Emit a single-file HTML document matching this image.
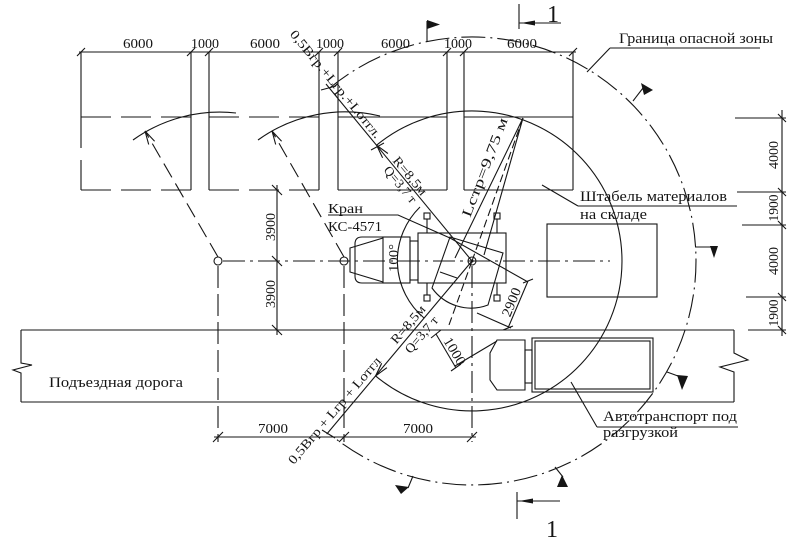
<!DOCTYPE html>
<html><head><meta charset="utf-8">
<style>
html,body{margin:0;padding:0;background:#fff;width:792px;height:545px;overflow:hidden}
svg{display:block}
text{font-family:"Liberation Serif","DejaVu Serif",serif;fill:#151515;stroke:none}
</style></head><body>
<svg width="792" height="545" viewBox="0 0 792 545" xmlns="http://www.w3.org/2000/svg">
<rect width="792" height="545" fill="#fff"/>
<g fill="none" stroke="#151515" stroke-width="1.1">
<!-- top dimension line -->
<line x1="79" y1="52" x2="576" y2="52"/>
<path d="M77,56 L85,48 M187,56 L195,48 M205,56 L213,48 M315,56 L323,48 M334,56 L342,48 M443,56 L451,48 M460,56 L468,48 M569,56 L577,48"/>
<!-- box verticals -->
<path d="M81,52 V148 M81,160 V190 M191,52 V190 M209,52 V190 M319,52 V190 M338,52 V190 M447,52 V190 M464,52 V190 M573,52 V190"/>
<path d="M81,117 H191 M209,117 H319 M81,190 H191 M209,190 H319" stroke-dasharray="30 10"/>
<path d="M338,117 H447 M464,117 H573 M338,190 H447 M464,190 H573"/>

<!-- previous crane position arcs -->
<path d="M133,140 A149,149 0 0 1 236,113"/>
<path d="M258,140 A149,149 0 0 1 380,116"/>
<path d="M218,257 L145,131 M344,257 L272,131" stroke-dasharray="16 7"/>
<path d="M148.7,144.5 L145,131 L154.6,141.2 M275.7,144.5 L272,131 L281.6,141.2"/>
<circle cx="218" cy="261" r="4"/>
<circle cx="344" cy="261" r="4"/>

<!-- axis lines -->
<path d="M223,261 H610" stroke-dasharray="22 5 3 5"/>
<path d="M218,266 V442 M344,266 V442" stroke-dasharray="22 6"/>
<path d="M472,266 V442" stroke-dasharray="22 5 3 5"/>

<!-- 3900 dims -->
<path d="M277,185 V335 M272,185 L282,195 M272,256 L282,266 M272,325 L282,335"/>

<!-- road -->
<path d="M21,330 H734 M21,402 H734"/>
<path d="M21,330 L21,363 L32,365 L13,370 L21,373 L21,402"/>
<path d="M734,330 L734,353 L748,360 L720,367 L734,372 L734,402"/>

<!-- bottom dimension -->
<path d="M214,437 H476 M213,442 L223,432 M339,442 L349,432 M467,442 L477,432"/>

<!-- right dimensions -->
<path d="M782,110 V336 M735,118 H786 M737,192 H786 M742,225 H786 M746,297 H786 M748,330 H786"/>
<path d="M778,114 L786,122 M778,188 L786,196 M778,221 L786,229 M778,293 L786,301 M778,326 L786,334"/>

<!-- crane working radius circle R=8.5 -->
<path d="M376.6,145.2 A150,150 0 1 1 375.6,375.9"/>
<!-- danger zone circle -->
<path d="M329.3,88.3 A224,224 0 1 1 334.1,437.5" stroke-dasharray="24 5 2 5"/>

<!-- radial dimension lines -->
<path d="M472,261 L326,84"/>
<path d="M382.6,157.8 L376.6,145.2 L387.9,153.5"/>
<path d="M321,90 L336,86 M371,150 L384,143"/>
<path d="M472,261 L326.7,434.1"/>
<path d="M386.9,367.7 L375.6,375.9 L381.7,363.3"/>
<path d="M322,430 L335,438"/>

<!-- boom -->
<path d="M523,118 L455,258 M523,118 L484,255"/>
<path d="M523,118 L472,261" stroke-dasharray="8 4"/>
<path d="M472,261 L449,325" stroke-dasharray="8 4"/>

<!-- crane body -->
<path d="M383,237 H362 Q355,237 355,244 V276 Q355,283 362,283 H383"/>
<path d="M383,238 L350,248 V272 L383,282"/>
<rect x="383" y="237" width="27" height="46"/>
<rect x="410" y="241" width="8" height="39"/>
<rect x="418" y="233" width="88" height="50"/>
<path d="M427,219 V233 M497,219 V233 M427,283 V295 M497,283 V295"/>
<rect x="424" y="213" width="6" height="6"/>
<rect x="494" y="213" width="6" height="6"/>
<rect x="424" y="295" width="6" height="6"/>
<rect x="494" y="295" width="6" height="6"/>
<path d="M450,237 L503,253 L488,305 A48,48 0 0 1 432,288 Z"/>
<path d="M440,272 L457,278"/>
<path d="M420,207 A75,75 0 0 0 424,318"/>
<circle cx="472" cy="261" r="4"/>
<circle cx="472" cy="261" r="1" fill="#151515"/>

<!-- Кран leader -->
<path d="M328,215 H398 L450,238"/>
<!-- 2900 dim -->
<path d="M450,238 L528,282 M528,281 L508,328 M477,313 L511,328"/>
<path d="M523,283 L533,279 M503,330 L513,326"/>
<!-- 1000 dim -->
<path d="M436,334 L456,368 M455,366 L497,341 M431,338 L441,330 M451,371 L461,364"/>

<!-- truck -->
<path d="M497,340 H525 V390 H497 L490,380 V353 Z"/>
<rect x="525" y="350" width="7" height="33"/>
<rect x="532" y="338" width="121" height="54"/>
<rect x="535" y="341" width="115" height="48"/>

<!-- storage stack -->
<rect x="547" y="224" width="110" height="73"/>

<!-- leaders -->
<path d="M610,48 H760 M610,48 L587,72"/>
<path d="M578,206 H737 M578,206 L542,185"/>
<path d="M597,427 H738 M597,427 L571,382"/>

<!-- section marks -->
<path d="M519,4 V29 M519,23 H561"/>
<path d="M517,492 V519 M517,501 H560"/>

<!-- flags poles -->
<path d="M427,42 V21 M633,101 L643,88 M695,247 H713 M667,372 L678,376 M555,467 L563,477 M413,476 L408,488"/>
</g>

<g fill="#151515" stroke="none">
<polygon points="521,23 535,20.5 535,25.5"/>
<polygon points="519,501 533,498.5 533,503.5"/>
<polygon points="427,20 440,24.5 427,29"/>
<polygon points="641,83 653,90 644,95"/>
<polygon points="710,246 718,246 714,258"/>
<polygon points="677,375 688,376 682,390"/>
<polygon points="562,475 568,487 557,487"/>
<polygon points="395,485 409,487 401,494"/>
</g>

<!-- top dimension labels -->
<g font-size="14">
<text x="123" y="48" textLength="30" lengthAdjust="spacingAndGlyphs">6000</text>
<text x="191" y="48" textLength="28" lengthAdjust="spacingAndGlyphs">1000</text>
<text x="250" y="48" textLength="30" lengthAdjust="spacingAndGlyphs">6000</text>
<text x="316" y="48" textLength="28" lengthAdjust="spacingAndGlyphs">1000</text>
<text x="381" y="48" textLength="29" lengthAdjust="spacingAndGlyphs">6000</text>
<text x="444" y="48" textLength="28" lengthAdjust="spacingAndGlyphs">1000</text>
<text x="507" y="48" textLength="30" lengthAdjust="spacingAndGlyphs">6000</text>
<text x="258" y="433" textLength="30" lengthAdjust="spacingAndGlyphs">7000</text>
<text x="403" y="433" textLength="30" lengthAdjust="spacingAndGlyphs">7000</text>
</g>

<!-- rotated dimension labels -->
<g font-size="14" text-anchor="middle">
<text transform="translate(270,227) rotate(-90)" y="5" textLength="28" lengthAdjust="spacingAndGlyphs">3900</text>
<text transform="translate(270,294) rotate(-90)" y="5" textLength="28" lengthAdjust="spacingAndGlyphs">3900</text>
<text transform="translate(773,155) rotate(-90)" y="5" textLength="28" lengthAdjust="spacingAndGlyphs">4000</text>
<text transform="translate(773,208) rotate(-90)" y="5" textLength="27" lengthAdjust="spacingAndGlyphs">1900</text>
<text transform="translate(773,261) rotate(-90)" y="5" textLength="28" lengthAdjust="spacingAndGlyphs">4000</text>
<text transform="translate(773,313) rotate(-90)" y="5" textLength="27" lengthAdjust="spacingAndGlyphs">1900</text>
<text transform="translate(393,258) rotate(-90)" y="5" textLength="28" lengthAdjust="spacingAndGlyphs">100°</text>
<text transform="translate(511,302) rotate(-68)" y="5" textLength="30" lengthAdjust="spacingAndGlyphs">2900</text>
<text transform="translate(455,351) rotate(59)" y="5" textLength="30" lengthAdjust="spacingAndGlyphs">1000</text>
</g>

<!-- radial texts -->
<g font-size="13" text-anchor="middle">
<text transform="translate(330.2,88.8) rotate(50.5)" y="-3" textLength="136" lengthAdjust="spacingAndGlyphs">0,5Bгр.+Lгр.+Lотгл.</text>
<text transform="translate(405.2,179.9) rotate(50.5)" y="-2" textLength="46" lengthAdjust="spacingAndGlyphs">R=8,5м</text>
<text transform="translate(405.5,180.3) rotate(50.5)" y="11" textLength="44" lengthAdjust="spacingAndGlyphs">Q=3,7 т</text>
<text transform="translate(341.5,416.5) rotate(-49.7)" y="-5" textLength="136" lengthAdjust="spacingAndGlyphs">0,5Bгр + Lгр + Lотгл</text>
<text transform="translate(414.3,329.8) rotate(-49.7)" y="-4" textLength="46" lengthAdjust="spacingAndGlyphs">R=8,5м</text>
<text transform="translate(414.8,329.1) rotate(-49.7)" y="13" textLength="44" lengthAdjust="spacingAndGlyphs">Q=3,7 т</text>
<text transform="translate(489,169) rotate(-69)" y="0" font-size="14" textLength="105" lengthAdjust="spacingAndGlyphs">Lстр=9,75 м</text>
</g>

<!-- labels -->
<g font-size="15">
<text x="619" y="43" textLength="154" lengthAdjust="spacingAndGlyphs">Граница опасной зоны</text>
<text x="580" y="201" textLength="147" lengthAdjust="spacingAndGlyphs">Штабель материалов</text>
<text x="580" y="219" textLength="67" lengthAdjust="spacingAndGlyphs">на складе</text>
<text x="603" y="421" textLength="134" lengthAdjust="spacingAndGlyphs">Автотранспорт под</text>
<text x="603" y="437" textLength="75" lengthAdjust="spacingAndGlyphs">разгрузкой</text>
<text x="49" y="387" textLength="134" lengthAdjust="spacingAndGlyphs">Подъездная дорога</text>
<text x="328" y="213" font-size="14" textLength="35" lengthAdjust="spacingAndGlyphs">Кран</text>
<text x="328" y="231" font-size="14" textLength="54" lengthAdjust="spacingAndGlyphs">КС-4571</text>
<text x="547" y="22" font-size="24">1</text>
<text x="546" y="537" font-size="24">1</text>
</g>
</svg>
</body></html>
